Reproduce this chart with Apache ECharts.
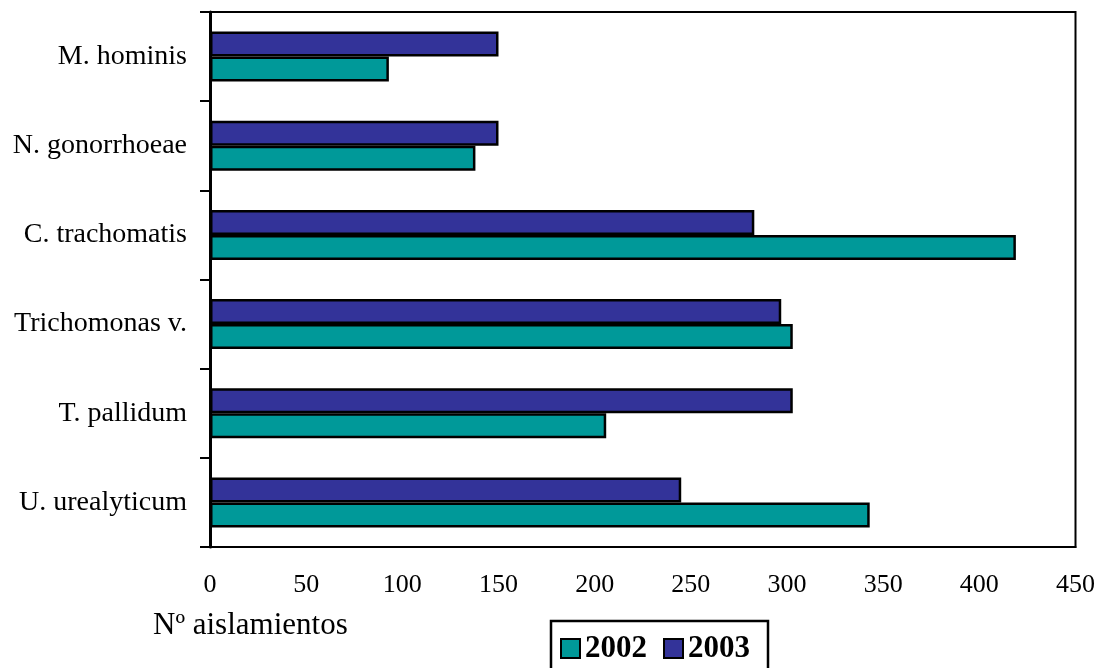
<!DOCTYPE html>
<html>
<head>
<meta charset="utf-8">
<script src="https://cdn.jsdelivr.net/npm/echarts@6/dist/echarts.min.js"></script>
<style>
  html, body { margin: 0; padding: 0; background: #fff; }
  #chart { width: 1098px; height: 668px; }
</style>
</head>
<body>
<div id="chart"></div>
<script>
// Organisms, listed bottom to top along the category axis
const categories = ['U. urealyticum', 'T. pallidum', 'Trichomonas v.', 'C. trachomatis', 'N. gonorrhoeae', 'M. hominis'];
// Number of isolates per year
const values2002 = [343, 206, 303, 419, 138, 93];
const values2003 = [245, 303, 297, 283, 150, 150];
const xTicks = { min: 0, max: 450, step: 50 };
const axisTitle = 'Nº aislamientos';

const FONT = '"Liberation Serif", "Times New Roman", serif';

const chart = echarts.init(document.getElementById('chart'), null, { renderer: 'canvas' });

const barStyle = (color) => ({ color: color, borderColor: '#000', borderWidth: 2.5 });

chart.setOption({
  backgroundColor: '#fff',
  animation: false,
  grid: {
    left: 210, top: 12, right: 21, bottom: 121,
    show: true, borderColor: '#000', borderWidth: 2, backgroundColor: 'transparent'
  },
  legend: {
    data: ['2002', '2003'],
    left: 551, top: 621,
    orient: 'horizontal',
    icon: 'rect',
    itemWidth: 19, itemHeight: 19,
    itemGap: 16,
    padding: [12, 18, 14, 9],
    backgroundColor: '#fff',
    borderColor: '#000', borderWidth: 2.5,
    textStyle: { fontFamily: FONT, fontSize: 31, fontWeight: 'bold', color: '#000' }
  },
  xAxis: {
    type: 'value',
    min: xTicks.min, max: xTicks.max, interval: xTicks.step,
    splitLine: { show: false },
    axisTick: { show: false },
    axisLine: { show: true, lineStyle: { color: '#000', width: 2 } },
    axisLabel: { fontFamily: FONT, fontSize: 26, color: '#000', margin: 25 }
  },
  yAxis: {
    type: 'category',
    data: categories,
    axisLine: { show: true, lineStyle: { color: '#000', width: 3 } },
    axisTick: { show: true, inside: false, length: 10, lineStyle: { color: '#000', width: 2 } },
    axisLabel: { fontFamily: FONT, fontSize: 28, color: '#000', margin: 23 }
  },
  // 2003 listed first so it sits above 2002 within each group
  series: [
    { name: '2003', type: 'bar', data: values2003, barWidth: 25, barGap: '0%', itemStyle: barStyle('#333399') },
    { name: '2002', type: 'bar', data: values2002, barWidth: 25, barGap: '0%', itemStyle: barStyle('#009999') }
  ],
  graphic: [{
    type: 'text', left: 153, top: 610,
    style: { text: axisTitle, font: '31px ' + FONT, fill: '#000' }
  }]
});
</script>
</body>
</html>
